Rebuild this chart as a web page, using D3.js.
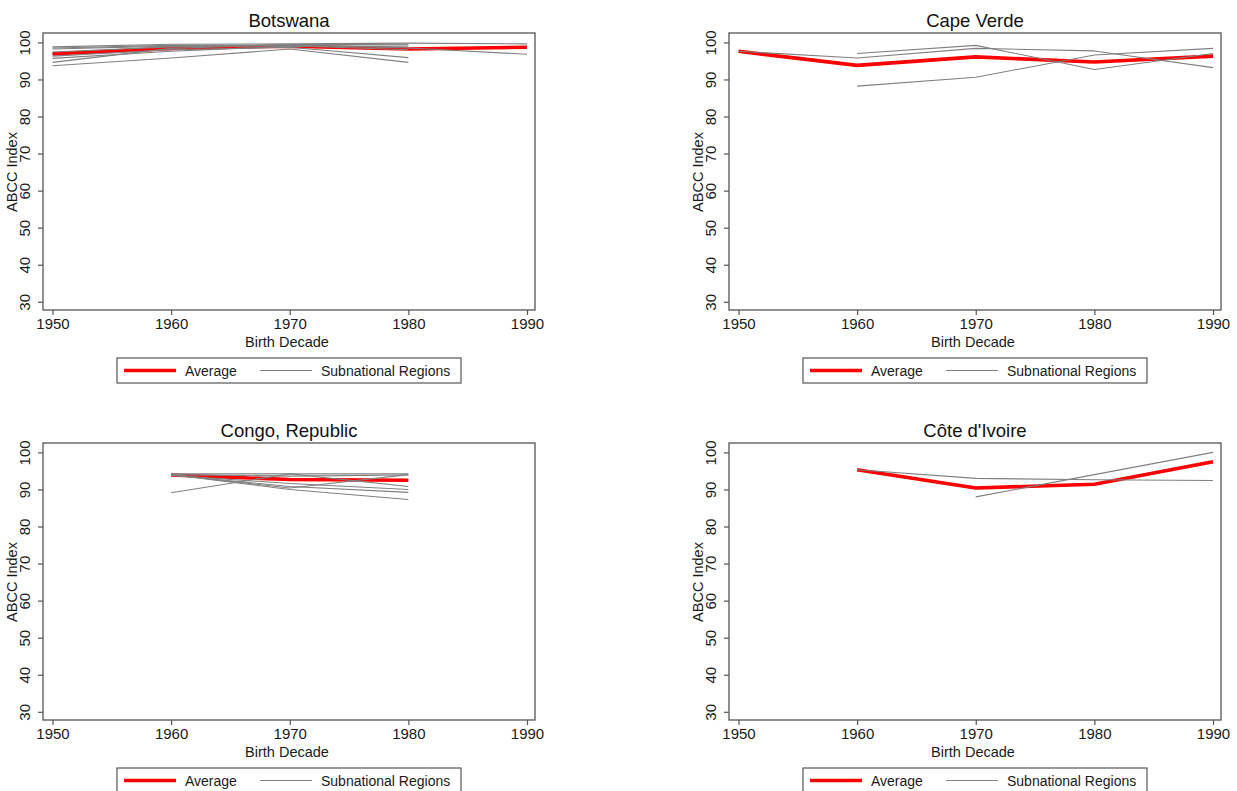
<!DOCTYPE html>
<html>
<head>
<meta charset="utf-8">
<script src="https://cdn.jsdelivr.net/npm/d3@7"></script>
<style>
  html, body { margin: 0; padding: 0; background: #fff; }
  svg { display: block; font-family: "Liberation Sans", Arial, sans-serif; }
</style>
</head>
<body>
<svg id="chart" width="1237" height="791"></svg>
<script>
// Birth decades on the x axis
const decades = [1950, 1960, 1970, 1980, 1990];
const yTicks = [30, 40, 50, 60, 70, 80, 90, 100];

// ABCC index by birth decade (null = no cohort observed)
const botswanaAverage = [96.9, 98.4, 99.0, 98.2, 98.7];
const botswanaRegions = [
  [98.8, 99.5, 99.6, 99.8, 99.6],
  [98.5, 99.2, 99.3, 98.5, 96.8],
  [98.2, 99.0, 99.1, 98.0, null],
  [97.4, 98.8, 99.3, 99.3, null],
  [96.3, 98.0, 98.7, 95.9, null],
  [95.7, 97.6, 99.0, 98.8, null],
  [94.6, 98.4, 99.4, 99.5, null],
  [93.7, 95.8, 98.2, 94.6, null]
];

const capeVerdeAverage = [97.6, 93.8, 96.1, 94.7, 96.3];
const capeVerdeRegions = [
  [97.6, 95.8, 98.4, 97.7, 93.2],
  [null, 97.0, 99.2, 92.7, 97.0],
  [null, 88.2, 90.6, 96.6, 98.4]
];

const congoAverage = [null, 93.9, 92.7, 92.5, null];
const congoRegions = [
  [null, 94.2, 94.2, 94.2, null],
  [null, 94.0, 93.6, 93.9, null],
  [null, 89.1, 94.2, 90.8, null],
  [null, 94.0, 90.0, 87.3, null],
  [null, 93.9, 90.8, 89.2, null],
  [null, 94.0, 90.4, 94.0, null],
  [null, 93.8, 91.6, 90.0, null]
];

const coteAverage = [null, 95.3, 90.4, 91.4, 97.5];
const coteRegions = [
  [null, 95.3, 93.0, 92.6, 92.4],
  [null, null, 88.0, 94.0, 100.0]
];

const panels = [
  { title: "Botswana", avg: botswanaAverage, regions: botswanaRegions, ox: 0, oy: 0 },
  { title: "Cape Verde", avg: capeVerdeAverage, regions: capeVerdeRegions, ox: 686, oy: 0 },
  { title: "Congo, Republic", avg: congoAverage, regions: congoRegions, ox: 0, oy: 410 },
  { title: "Côte d'Ivoire", avg: coteAverage, regions: coteRegions, ox: 686, oy: 410 }
];

const legendLabels = ["Average", "Subnational Regions"];

const RED = "#ff0000";
const GREY = "#808080";
const FRAME = "#555";
const INK = "#1a1a1a";

const svg = d3.select("#chart");

// Plot area geometry inside one panel
const box = { left: 43, right: 535, top: 33, bottom: 310 };
const x = d3.scaleLinear().domain([1950, 1990]).range([52.5, 527]);
const y = d3.scaleLinear().domain([30, 100]).range([301.8, 42.4]);

const line = d3.line()
  .defined(d => d.v !== null)
  .x(d => x(d.year))
  .y(d => y(d.v));

const toPoints = arr => arr.map((v, i) => ({ year: decades[i], v }));

panels.forEach(p => {
  const g = svg.append("g").attr("transform", `translate(${p.ox},${p.oy})`);

  // Frame of the plot region
  g.append("rect")
    .attr("x", box.left).attr("y", box.top)
    .attr("width", box.right - box.left).attr("height", box.bottom - box.top)
    .attr("fill", "#fff").attr("stroke", FRAME).attr("stroke-width", 1.3);

  // Average first, subnational regions drawn over it
  g.append("path")
    .attr("d", line(toPoints(p.avg)))
    .attr("fill", "none").attr("stroke", RED)
    .attr("stroke-width", 3.6).attr("stroke-linejoin", "round");

  p.regions.forEach(r => {
    g.append("path")
      .attr("d", line(toPoints(r)))
      .attr("fill", "none").attr("stroke", GREY)
      .attr("stroke-width", 1.1).attr("stroke-linejoin", "round");
  });

  // Y axis
  const yAxis = g.append("g").attr("transform", `translate(${box.left},0)`)
    .call(d3.axisLeft(y).tickValues(yTicks).tickSize(5).tickSizeOuter(0).tickPadding(3));
  yAxis.select(".domain").remove();
  yAxis.selectAll(".tick line").attr("stroke", FRAME).attr("stroke-width", 1.2);
  yAxis.selectAll(".tick text")
    .attr("font-size", 15).attr("fill", INK)
    .attr("x", 0).attr("dy", 0)
    .attr("text-anchor", "middle")
    .attr("transform", "translate(-13,0) rotate(-90)");

  // X axis
  const xAxis = g.append("g").attr("transform", `translate(0,${box.bottom})`)
    .call(d3.axisBottom(x).tickValues(decades).tickFormat(d3.format("d"))
      .tickSize(5).tickSizeOuter(0).tickPadding(3));
  xAxis.select(".domain").remove();
  xAxis.selectAll(".tick line").attr("stroke", FRAME).attr("stroke-width", 1.2);
  xAxis.selectAll(".tick text").attr("font-size", 15).attr("fill", INK);

  // Titles
  g.append("text")
    .attr("x", (box.left + box.right) / 2).attr("y", 27)
    .attr("text-anchor", "middle").attr("font-size", 18.5).attr("fill", "#111")
    .text(p.title);

  g.append("text")
    .attr("x", (box.left + box.right) / 2 - 2).attr("y", 347)
    .attr("text-anchor", "middle").attr("font-size", 14.5).attr("fill", INK)
    .text("Birth Decade");

  g.append("text")
    .attr("transform", "translate(17,172) rotate(-90)")
    .attr("text-anchor", "middle").attr("font-size", 14.5).attr("fill", INK)
    .text("ABCC Index");

  // Legend
  const lg = g.append("g").attr("transform", "translate(117,358)");
  lg.append("rect").attr("width", 344).attr("height", 25)
    .attr("fill", "#fff").attr("stroke", FRAME).attr("stroke-width", 1.2);
  lg.append("line").attr("x1", 7).attr("x2", 59).attr("y1", 12.5).attr("y2", 12.5)
    .attr("stroke", RED).attr("stroke-width", 3.6);
  lg.append("text").attr("x", 68).attr("y", 17.5).attr("font-size", 14).attr("fill", INK)
    .text(legendLabels[0]);
  lg.append("line").attr("x1", 143).attr("x2", 195).attr("y1", 12.5).attr("y2", 12.5)
    .attr("stroke", GREY).attr("stroke-width", 1.1);
  lg.append("text").attr("x", 204).attr("y", 17.5).attr("font-size", 14).attr("fill", INK)
    .text(legendLabels[1]);
});
</script>
</body>
</html>
